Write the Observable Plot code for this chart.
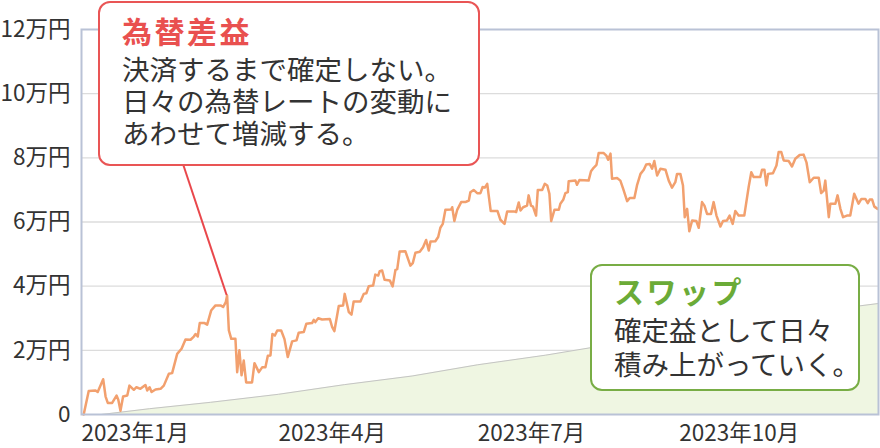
<!DOCTYPE html>
<html><head><meta charset="utf-8">
<script src="https://cdn.jsdelivr.net/npm/d3@7"></script>
<script src="https://cdn.jsdelivr.net/npm/@observablehq/plot@0.6"></script>
<style>
body{margin:0;background:#fff;font-family:"Noto Sans CJK JP","Noto Sans",sans-serif;}
#wrap{position:relative;width:880px;height:448px;overflow:hidden;}
#wrap > svg{display:block;}
.box{position:absolute;background:#fff;border-radius:12px;box-sizing:border-box;color:#333;}
.box .t{position:absolute;left:22px;font-size:30px;line-height:30px;font-weight:700;letter-spacing:2.5px;white-space:nowrap;}
.box .l{position:absolute;left:22px;font-size:27.5px;line-height:28px;white-space:nowrap;}
#ov{position:absolute;left:0;top:0;pointer-events:none;}
</style></head><body><div id="wrap"></div>
<script>
// 為替差益 (yen), by day offset from 2023-01-01
const fxDay = [1,3.3,6.4,7.4,9.9,11,12,14,16,16.8,
17.8,19,20.9,21.9,23.9,25.1,26.9,29.2,30,31.1,
32,33.8,36.1,37.6,39.9,41.4,43.7,45.7,47.5,49.8,
51.3,52.1,53.1,54,56.2,57.4,59.2,61.2,63.5,64.7,
65.9,66.5,67.3,68.4,70.3,71.1,72.1,73.1,74.1,75.2,
77.9,79,81,82.5,84,85.1,86.3,87.2,88.3,89.4,
91.2,92.7,94.2,96.2,98.2,99.2,101.5,102.7,105.3,106.1,
106.8,108.1,109.9,113.4,114.5,115.5,117.5,119.5,120.2,122.1,
123.3,124.3,127.4,128.9,130.1,131.2,133.2,134.2,135.5,136.2,
137.3,138.4,140.8,142.1,143.4,144.2,145.3,147.9,150.2,151.3,
152.5,154.5,156,157.4,158.6,159.4,161.6,162.9,163.9,165,
166.2,168.8,169.3,170.3,171.6,173.4,175.3,176.9,177.6,179.1,
180.7,182.2,183.2,184.2,185.3,186.9,190,191.3,193.2,194.4,
197.4,198.5,199.7,200.5,201.7,203.5,204.2,205.3,206.2,207.6,
208.4,210.4,211.6,212.7,213.7,214.5,216,218,218.7,220,
221,222.1,222.5,225.6,226.3,227.4,231.6,232.7,233.9,235.2,
236.2,238.5,239.7,240.5,241.6,242.3,244.6,246.1,247.4,249.2,
250.4,252.5,253.7,255.3,256.8,257.9,259.5,260.6,261.6,262.9,
264.4,266.7,268.2,269.7,271.2,272,273.5,274.7,275.5,276.6,
277.6,278.9,280.8,281.9,283.4,284.5,285.7,287.5,288.7,290,
291.8,293,294.8,296,297.4,298.6,300.1,302.7,304.7,305.9,
307,310,310.8,311.9,312.8,313.6,315.8,317.4,318.4,319.6,
320.7,323,324.5,326,328,329.8,331.1,332.6,334.4,336.7,
337.8,339,339.7,341.3,342,344.3,345.3,346.6,347.8,349.6,
351.1,352.9,354.9,356.2,358,359.1,360,361.1,362.1,363.6];
const fxValue = [0,7300,7500,7000,11000,5600,3600,3600,5900,4600,
1200,5600,5900,9000,7700,8500,8000,9200,7500,8500,
7000,7800,8000,9000,12700,12900,18900,20500,23400,23300,
24300,25100,24300,28500,28500,28000,32400,34000,34000,33500,
35000,37100,26200,23600,23600,13200,20000,12200,16800,10000,
10000,16000,13200,14700,14700,18300,18400,25100,24600,26200,
26200,23500,17900,22800,23100,25500,25700,28300,28500,29500,
28800,30000,29600,29800,27200,26000,33800,34000,37600,31900,
31100,35200,35200,37600,37800,40000,40200,43600,43300,44700,
44900,42000,41800,39900,45100,45300,50800,50900,46400,47200,
50400,50700,52100,54400,51100,53900,54000,55300,58200,59400,
63800,63900,64600,60300,63800,66200,66200,66700,69300,70000,
69000,69000,70900,70700,71900,63400,63400,60700,59400,63300,
63300,63100,66100,63600,64600,65100,68300,65100,64800,62000,
70000,70000,71900,71400,68800,60300,63800,63800,65700,66900,
69000,69300,72700,72900,71600,73100,72900,75800,76900,77800,
81500,81500,80700,79400,81300,73500,73700,72900,70300,66500,
67500,67500,71400,75000,76300,77900,78100,76600,79000,74500,
76600,76300,72900,70700,72400,75000,75000,71400,61500,64100,
57100,60500,60300,58200,66200,65100,62500,62500,66200,62000,
58600,60300,60500,62000,59400,63400,62000,62000,70900,75500,
74000,74000,76300,76300,71400,75000,75200,77600,81800,81800,
79200,79000,77300,79700,80900,81000,78600,72400,73800,73800,
69000,69800,72900,61500,65700,65700,68300,64100,61500,62000,
62000,68800,65700,67200,67200,65900,67000,67000,64800,64100];

// スワップ (yen), cumulative
const swapDay = [0,9,31,59,90,120,151,181,212,243,273,304,334,364];
const swapValue = [0,0,1800,3800,6300,9300,12000,15500,18500,22000,25500,29000,32000,34600];

const yTicks = [0,20000,40000,60000,80000,100000,120000];
const xTickDates = ["2023-01-01","2023-04-01","2023-07-01","2023-10-01"];
const xTickLabels = ["2023年1月","2023年4月","2023年7月","2023年10月"];

const fxTitle = "為替差益";
const fxLines = ["決済するまで確定しない。","日々の為替レートの変動に","あわせて増減する。"];
const swapTitle = "スワップ";
const swapLines = ["確定益として日々","積み上がっていく。"];

const t0 = Date.UTC(2023,0,1);
const toDate = d => new Date(t0 + d*864e5);
const fx = fxDay.map((d,i)=>({date:toDate(d), value:fxValue[i]}));
const swap = swapDay.map((d,i)=>({date:toDate(d), value:swapValue[i]}));
const xTicks = xTickDates.map(s=>new Date(s+"T00:00:00Z"));
const labelMap = new Map(xTicks.map((d,i)=>[+d, xTickLabels[i]]));

const chart = Plot.plot({
  width: 880, height: 448,
  marginLeft: 81, marginRight: 2, marginTop: 29, marginBottom: 34,
  style: {fontFamily: "'Noto Sans CJK JP', sans-serif", fontSize: "22.5px", color: "#333", background: "white", overflow: "visible"},
  x: {type: "utc", domain: [toDate(0), toDate(364)], label: null},
  y: {domain: [0, 120000], label: null},
  marks: [
    Plot.ruleY(yTicks.slice(1, -1), {stroke: "#dcdcdc", strokeWidth: 1.3}),
    Plot.areaY(swap, {x: "date", y: "value", fill: "#eff6e2"}),
    Plot.lineY(swap, {x: "date", y: "value", stroke: "#c4c4c4", strokeWidth: 1}),
    Plot.lineY(fx, {x: "date", y: "value", stroke: "#f2a06e", strokeWidth: 2.5, strokeLinejoin: "round"}),
    Plot.frame({stroke: "#b9c2d6", strokeWidth: 2}),
    Plot.axisY({ticks: yTicks, tickFormat: v => v === 0 ? "0" : (v/10000) + "万円", tickSize: 0, tickPadding: 11, fontSize: 22.5, fill: "#333", label: null}),
    Plot.axisX({ticks: xTicks, tickFormat: d => labelMap.get(+d), tickSize: 0, tickPadding: 11, textAnchor: "start", fontSize: 22.5, fill: "#333", label: null})
  ]
});
const wrap = document.getElementById("wrap");
wrap.appendChild(chart);

// pointer from annotation box to the peak of 為替差益
const sx = chart.scale("x"), sy = chart.scale("y");
const peak = fx.filter(d => d.date < toDate(100)).reduce((a,b)=> b.value > a.value ? b : a);
const ov = d3.select(wrap).append("svg").attr("id","ov").attr("width",880).attr("height",448);
ov.append("line")
  .attr("x1", 183).attr("y1", 164)
  .attr("x2", sx.apply(peak.date)).attr("y2", sy.apply(peak.value))
  .attr("stroke", "#e9474b").attr("stroke-width", 2);

function makeBox(style, title, titleColor, titleTop, lines, bodyTop, pitch) {
  const box = document.createElement("div");
  box.className = "box";
  Object.assign(box.style, style);
  const t = document.createElement("div");
  t.className = "t"; t.textContent = title;
  t.style.top = titleTop + "px"; t.style.color = titleColor;
  box.appendChild(t);
  lines.forEach((s, i) => {
    const l = document.createElement("div");
    l.className = "l"; l.textContent = s;
    l.style.top = (bodyTop + i * pitch) + "px";
    box.appendChild(l);
  });
  wrap.appendChild(box);
}
makeBox({left:"98px", top:"1px", width:"382px", height:"165px", border:"2px solid #e95555"},
  fxTitle, "#e9504f", 12, fxLines, 51, 32);
makeBox({left:"590px", top:"264px", width:"270px", height:"127px", border:"2px solid #78ad45"},
  swapTitle, "#6bab37", 9, swapLines, 49, 34);
</script>
</body></html>
